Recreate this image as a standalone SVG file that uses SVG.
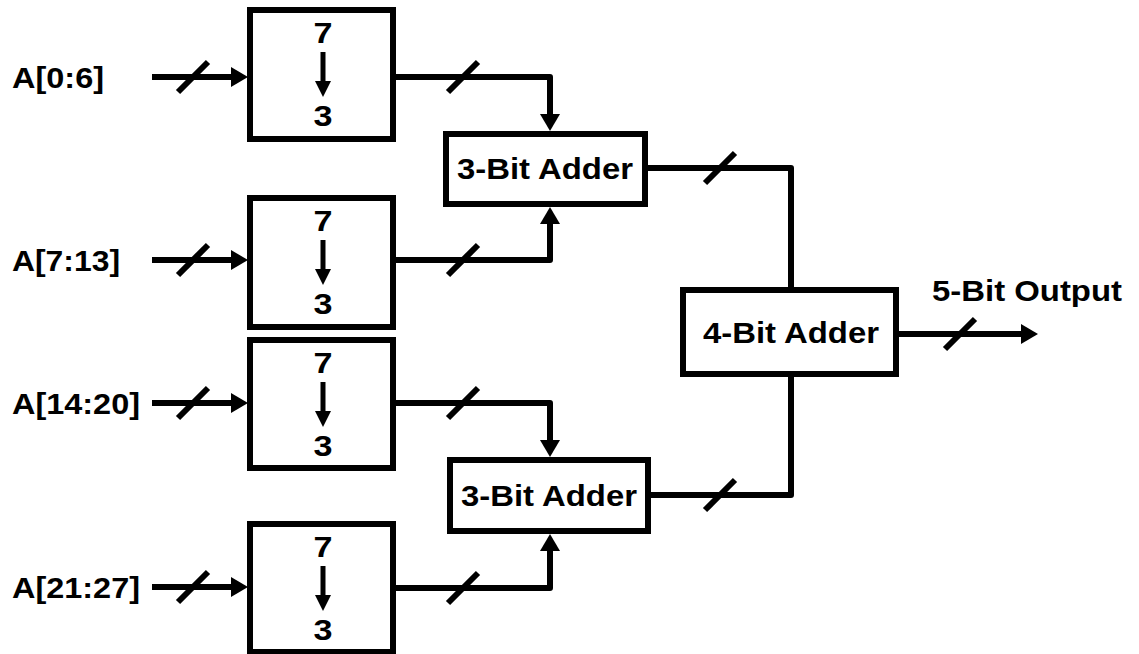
<svg xmlns="http://www.w3.org/2000/svg" width="1139" height="654" viewBox="0 0 1139 654">
<style>
.box{fill:#fff;stroke:#000;stroke-width:6}
.wire{fill:none;stroke:#000;stroke-width:6;stroke-linejoin:round}
.slash{stroke:#000;stroke-width:6}
.t{font-family:"Liberation Sans",Arial,Helvetica,sans-serif;font-weight:bold;font-size:29.5px;fill:#000}
.m{text-anchor:middle}
.inner{stroke:#000;stroke-width:5}
</style>
<defs>
<marker id="ah" markerUnits="userSpaceOnUse" markerWidth="17" markerHeight="20" viewBox="0 0 17 20" refX="1" refY="10" orient="auto">
<path d="M0,0 L17,10 L0,20 z" fill="#000"/>
</marker>
<g id="reduce">
<text class="t m" x="0" y="36" textLength="19" lengthAdjust="spacingAndGlyphs">7</text>
<line class="inner" x1="0" y1="45" x2="0" y2="75"/>
<path d="M-8,74 L8,74 L0,90 z" fill="#000"/>
<text class="t m" x="0" y="119" textLength="19" lengthAdjust="spacingAndGlyphs">3</text>
</g>
</defs>

<g id="connectors">
<path class="wire" d="M152,77 L232,77" marker-end="url(#ah)"/>
<path class="wire" d="M152,260 L232,260" marker-end="url(#ah)"/>
<path class="wire" d="M152,403 L232,403" marker-end="url(#ah)"/>
<path class="wire" d="M152,587 L232,587" marker-end="url(#ah)"/>
<path class="wire" d="M396,77 L550,77 L550,115" marker-end="url(#ah)"/>
<path class="wire" d="M396,260 L550,260 L550,223" marker-end="url(#ah)"/>
<path class="wire" d="M396,403 L550,403 L550,441" marker-end="url(#ah)"/>
<path class="wire" d="M396,588 L550,588 L550,550" marker-end="url(#ah)"/>
<path class="wire" d="M648,168 L791,168 L791,287"/>
<path class="wire" d="M651,495 L791,495 L791,377"/>
<path class="wire" d="M899,334 L1022,334" marker-end="url(#ah)"/>
<g class="slash">
<line x1="178" y1="92" x2="208" y2="62"/>
<line x1="178" y1="275" x2="208" y2="245"/>
<line x1="178" y1="418" x2="208" y2="388"/>
<line x1="178" y1="602" x2="208" y2="572"/>
<line x1="448" y1="92" x2="478" y2="62"/>
<line x1="448" y1="275" x2="478" y2="245"/>
<line x1="448" y1="418" x2="478" y2="388"/>
<line x1="448" y1="603" x2="478" y2="573"/>
<line x1="705" y1="183" x2="735" y2="153"/>
<line x1="705" y1="510" x2="735" y2="480"/>
<line x1="945" y1="349" x2="975" y2="319"/>
</g>
</g>

<g id="label-a0"><text class="t" x="12" y="88" textLength="92" lengthAdjust="spacingAndGlyphs">A[0:6]</text></g>
<g id="label-a7"><text class="t" x="12" y="271" textLength="108" lengthAdjust="spacingAndGlyphs">A[7:13]</text></g>
<g id="label-a14"><text class="t" x="12" y="414" textLength="128" lengthAdjust="spacingAndGlyphs">A[14:20]</text></g>
<g id="label-a21"><text class="t" x="12" y="598" textLength="128" lengthAdjust="spacingAndGlyphs">A[21:27]</text></g>

<g id="reducer1"><rect class="box" x="250" y="10" width="143" height="129"/><use href="#reduce" x="323" y="7"/></g>
<g id="reducer2"><rect class="box" x="250" y="198" width="143" height="129"/><use href="#reduce" x="323" y="195"/></g>
<g id="reducer3"><rect class="box" x="250" y="340" width="143" height="128"/><use href="#reduce" x="323" y="337"/></g>
<g id="reducer4"><rect class="box" x="250" y="524" width="143" height="128"/><use href="#reduce" x="323" y="521"/></g>

<g id="adder3a"><rect class="box" x="446" y="134" width="199" height="70"/><text class="t m" x="545" y="179" textLength="176" lengthAdjust="spacingAndGlyphs">3-Bit Adder</text></g>
<g id="adder3b"><rect class="box" x="450" y="460" width="198" height="71"/><text class="t m" x="549" y="506" textLength="176" lengthAdjust="spacingAndGlyphs">3-Bit Adder</text></g>
<g id="adder4"><rect class="box" x="683" y="290" width="213" height="84"/><text class="t m" x="791" y="343" textLength="176" lengthAdjust="spacingAndGlyphs">4-Bit Adder</text></g>
<g id="output-label"><text class="t" x="932" y="301" textLength="190" lengthAdjust="spacingAndGlyphs">5-Bit Output</text></g>
</svg>
